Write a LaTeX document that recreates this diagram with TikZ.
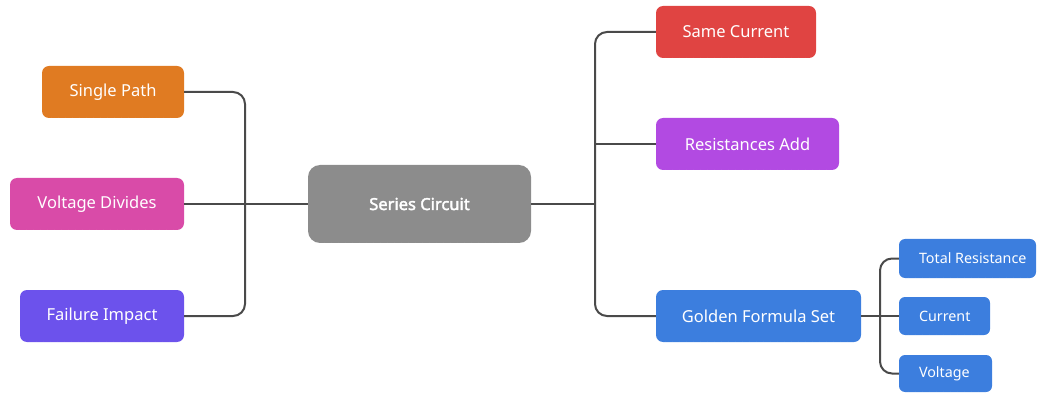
\documentclass[tikz,border=0pt]{standalone}
\usepackage{fontspec}
\setmainfont{Noto Sans}
\newfontfamily\scbold{Noto Sans}[FakeBold=2.2]
\usetikzlibrary{positioning}
\definecolor{cOrange}{HTML}{E07B22}
\definecolor{cPink}{HTML}{D94BA8}
\definecolor{cViolet}{HTML}{6C52EC}
\definecolor{cGray}{HTML}{8C8C8C}
\definecolor{cRed}{HTML}{E04442}
\definecolor{cPurple}{HTML}{B24AE2}
\definecolor{cBlue}{HTML}{3C7EDE}
\definecolor{cLine}{HTML}{4A4A4A}
\tikzset{
  stripes/.style={path picture={
    \foreach \k in {0,...,60}
      \draw[white, opacity=0.07, line width=2pt]
        ([xshift=\k*7pt-180pt]path picture bounding box.south west) -- ++(200pt,-200pt);}},
  box/.style={rounded corners=7pt, inner sep=0pt, text=white, font=\fontsize{16.5}{19}\selectfont, draw=none, stripes},
  sbox/.style={rounded corners=6pt, inner sep=0pt, draw=none, fill=cBlue, stripes},
  stext/.style={inner sep=0pt, anchor=west, text=white, font=\fontsize{14.3}{16}\selectfont},
  conn/.style={draw=cLine, line width=2pt, rounded corners=12pt},
}
\begin{document}
\begin{tikzpicture}[x=1pt,y=-1pt]
\useasboundingbox (0,0) rectangle (1043,395);
% nodes (centers in px)
\node[box, fill=cOrange, minimum width=142pt, minimum height=52pt] (sp) at (113,92) {Single Path};
\node[box, fill=cPink, minimum width=174pt, minimum height=52pt] (vd) at (97,204) {Voltage Divides};
\node[box, fill=cViolet, minimum width=164pt, minimum height=52pt] (fi) at (102,316) {Failure Impact};
\node[box, fill=cGray, minimum width=223pt, minimum height=78pt, rounded corners=12pt, font=\scbold\fontsize{16.5}{19}\selectfont] (sc) at (419.5,204) {Series Circuit};
\node[box, fill=cRed, minimum width=160pt, minimum height=52pt] (same) at (736,32) {Same Current};
\node[box, fill=cPurple, minimum width=183pt, minimum height=52pt] (ra) at (747.5,144) {Resistances Add};
\node[box, fill=cBlue, minimum width=205pt, minimum height=52pt] (gf) at (758.5,316) {Golden Formula Set};
\node[sbox, minimum width=137pt, minimum height=39pt] (tr) at (967.5,258.5) {};
\node[sbox, minimum width=91pt, minimum height=38pt] (cu) at (944.5,316) {};
\node[sbox, minimum width=93pt, minimum height=37pt] (vo) at (945.5,373.5) {};
\node[stext] (trt) at ([xshift=20pt]tr.west) {Total Resistance};
\node[stext] (cut) at ([xshift=20pt]cu.west) {Current};
\node[stext] (vot) at ([xshift=20pt]vo.west) {Voltage};
% junctions
\coordinate (lj) at (245,204);
\coordinate (rj) at (595,204);
\coordinate (gj) at (880,316);
% connectors
\draw[conn] (sp.east) -| (lj) |- (fi.east);
\draw[conn] (vd.east) -- (sc.west);
\draw[conn] (sc.east) -- (rj);
\draw[conn] (same.west) -| (rj) |- (gf.west);
\draw[conn] (rj |- ra.west) -- (ra.west);
\draw[conn] (gf.east) -- (cu.west);
\draw[conn] (tr.west) -| (gj) |- (vo.west);
\end{tikzpicture}
\end{document}
